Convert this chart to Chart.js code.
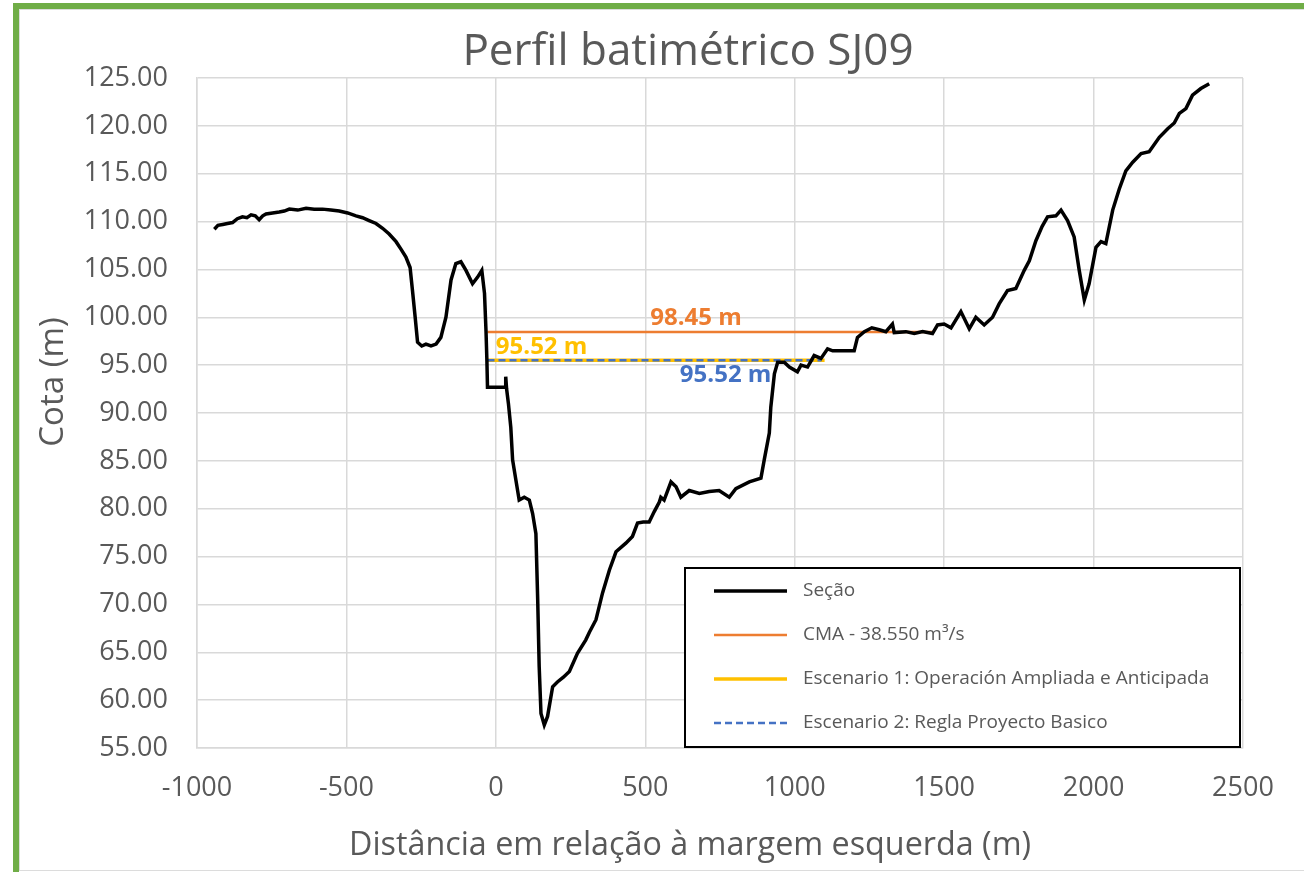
<!DOCTYPE html>
<html>
<head>
<meta charset="utf-8">
<script src="https://cdn.jsdelivr.net/npm/chart.js@4.4.1/dist/chart.umd.min.js"></script>
<style>
  html, body { margin: 0; padding: 0; background: #ffffff; }
  #wrap { position: relative; width: 1304px; height: 872px; overflow: hidden; }
  #c { position: absolute; left: 0; top: 0; }
  #frameGreen { position: absolute; left: 13px; top: 3px; width: 1400px; height: 1000px;
    border-left: 6px solid #70AD47; border-top: 6px solid #70AD47; pointer-events: none; }
  #frameGray { position: absolute; left: 19px; top: 9px; width: 1400px; height: 860px;
    border-left: 1px solid #dcdcdc; border-top: 1px solid #dcdcdc; border-bottom: 1px solid #dcdcdc; pointer-events: none; }
</style>
</head>
<body>
<div id="wrap">
  <canvas id="c" width="1304" height="872"></canvas>
  <div id="frameGray"></div>
  <div id="frameGreen"></div>
</div>
<script>
// ---- data ----
const titleText = "Perfil batimétrico SJ09";
const xAxisTitle = "Distância em relação à margem esquerda (m)";
const yAxisTitle = "Cota (m)";

const sectionLabel = "Seção";
const sectionX = [-942,-930,-914,-898,-881,-865,-848,-833,-819,-805,-792,-780,-769,-747,-725,-708,-691,-663,-635,-608,-580,-552,-524,-496,-468,-446,-424,-401,-379,-357,-334,-317,-301,-287,-279,-270,-262,-248,-234,-217,-200,-184,-167,-150,-134,-117,-100,-78,-61,-47,-38,-33,-30,-28,
  31,33,36,42,50,56,67,78,95,112,123,134,140,145,151,162,173,190,206,226,246,273,301,313,335,357,380,402,435,457,474,493,513,530,547,
  552,563,586,603,619,647,681,714,747,781,803,848,887,898,915,920,932,943,965,982,1009,1021,1043,1065,1088,1110,1127,1199,1210,1233,1258,1283,1305,1327,1333,1372,1400,1428,1461,1478,1500,1523,1556,1584,1606,1634,1662,1684,1712,1740,1768,1785,1807,1828,1846,1874,1891,1913,1935,1952,1969,1985,2008,2025,2041,2064,2086,2108,2131,2159,2186,2220,2248,2270,2287,2309,2331,2359,2387];
const sectionY = [109.2,109.6,109.7,109.8,109.9,110.3,110.5,110.4,110.7,110.6,110.2,110.6,110.8,110.9,111.0,111.1,111.3,111.2,111.4,111.3,111.3,111.2,111.1,110.9,110.6,110.4,110.1,109.8,109.3,108.7,107.9,107.1,106.3,105.2,102.8,100.0,97.4,97.0,97.2,97.0,97.2,97.9,100.0,103.9,105.6,105.8,104.9,103.5,104.2,104.9,102.5,98.6,95.5,92.7,
  92.7,93.8,92.5,91.0,88.5,85.1,83.0,80.9,81.2,80.9,79.5,77.4,70.5,63.5,58.6,57.4,58.3,61.4,61.9,62.4,63.0,64.9,66.3,67.1,68.4,71.2,73.6,75.5,76.4,77.1,78.5,78.6,78.6,79.7,80.7,
  81.2,80.9,82.8,82.3,81.2,81.9,81.6,81.8,81.9,81.2,82.1,82.8,83.2,85.1,87.9,90.6,94.1,95.3,95.3,94.8,94.3,95.0,94.8,96.0,95.7,96.7,96.5,96.5,97.9,98.5,98.9,98.7,98.5,99.3,98.4,98.5,98.3,98.5,98.3,99.2,99.3,98.9,100.6,98.8,100.0,99.2,100.0,101.4,102.8,103.0,104.9,105.9,108.0,109.5,110.5,110.6,111.2,110.1,108.4,104.9,101.8,103.5,107.3,107.9,107.7,111.2,113.4,115.3,116.2,117.1,117.3,118.8,119.7,120.3,121.3,121.8,123.2,123.9,124.4];

const cmaLabel = "CMA - 38.550 m³/s";
const cmaX = [-28, 1467];
const cmaLevel = 98.45;

const esc1Label = "Escenario 1: Operación Ampliada e Anticipada";
const esc1X = [-28, 1100];
const esc1Level = 95.52;

const esc2Label = "Escenario 2: Regla Proyecto Basico";
const esc2X = [-28, 1090];
const esc2Level = 95.52;

const xTicks = [-1000, -500, 0, 500, 1000, 1500, 2000, 2500];
const yTicks = [55, 60, 65, 70, 75, 80, 85, 90, 95, 100, 105, 110, 115, 120, 125];

// ---- build ----
const FONT = "'Open Sans', 'Liberation Sans', sans-serif";
const GRAY = '#595959';
const pts = (xs, ys) => xs.map((x, i) => ({ x: x, y: ys[i] }));
const flat = (xs, lvl) => xs.map(x => ({ x: x, y: lvl }));

const annotations = [
  { text: cmaLevel.toFixed(2) + ' m', x: 670, y: cmaLevel, color: '#ED7D31', align: 'center', dy: -14 },
  { text: esc1Level.toFixed(2) + ' m', x: 0, y: esc1Level, color: '#FFC000', align: 'left', dy: -13 },
  { text: esc2Level.toFixed(2) + ' m', x: 922, y: esc2Level, color: '#4472C4', align: 'right', dy: 15 }
];

const textPlugin = {
  id: 'texts',
  afterDraw(chart) {
    const ctx = chart.ctx;
    ctx.save();
    ctx.fillStyle = GRAY;
    ctx.textBaseline = 'alphabetic';
    ctx.textAlign = 'center';
    // chart title
    ctx.font = "44px " + FONT;
    ctx.fillText(titleText, 688, 65);
    // x axis title
    ctx.font = "32.3px " + FONT;
    ctx.fillText(xAxisTitle, 690, 855);
    // y axis title (rotated)
    ctx.translate(63, 382);
    ctx.rotate(-Math.PI / 2);
    ctx.font = "33px " + FONT;
    ctx.fillText(yAxisTitle, 0, 0);
    ctx.restore();
  }
};

const annotationPlugin = {
  id: 'valueLabels',
  afterDatasetsDraw(chart) {
    const ctx = chart.ctx, xs = chart.scales.x, ys = chart.scales.y;
    ctx.save();
    ctx.font = "bold 24px " + FONT;
    ctx.textBaseline = 'middle';
    annotations.forEach(a => {
      ctx.fillStyle = a.color;
      ctx.textAlign = a.align;
      ctx.fillText(a.text, xs.getPixelForValue(a.x), ys.getPixelForValue(a.y) + a.dy);
    });
    ctx.restore();
  }
};

const legendPlugin = {
  id: 'boxLegend',
  afterDraw(chart) {
    const ctx = chart.ctx;
    const box = { l: 685, t: 568, r: 1240, b: 747 };
    ctx.save();
    ctx.fillStyle = '#ffffff';
    ctx.fillRect(box.l, box.t, box.r - box.l, box.b - box.t);
    ctx.strokeStyle = '#000000';
    ctx.lineWidth = 2;
    ctx.strokeRect(box.l, box.t, box.r - box.l, box.b - box.t);
    const rows = [591, 635, 679, 723];
    chart.data.datasets.forEach((ds, i) => {
      const y = rows[i];
      ctx.beginPath();
      ctx.strokeStyle = ds.borderColor;
      ctx.lineWidth = ds.borderWidth;
      ctx.setLineDash(ds.borderDash || []);
      ctx.moveTo(714, y);
      ctx.lineTo(787, y);
      ctx.stroke();
      ctx.setLineDash([]);
      ctx.fillStyle = GRAY;
      ctx.font = "19px " + FONT;
      ctx.textAlign = 'left';
      ctx.textBaseline = 'middle';
      ctx.fillText(ds.label, 803, y);
    });
    ctx.restore();
  }
};

new Chart(document.getElementById('c'), {
  type: 'scatter',
  data: {
    datasets: [
      { label: sectionLabel, data: pts(sectionX, sectionY), showLine: true, borderColor: '#000000', borderWidth: 3.5, pointRadius: 0, order: 0 },
      { label: cmaLabel, data: flat(cmaX, cmaLevel), showLine: true, borderColor: '#ED7D31', borderWidth: 2.5, pointRadius: 0, order: 2 },
      { label: esc1Label, data: flat(esc1X, esc1Level), showLine: true, borderColor: '#FFC000', borderWidth: 3.5, pointRadius: 0, order: 3 },
      { label: esc2Label, data: flat(esc2X, esc2Level), showLine: true, borderColor: '#4472C4', borderWidth: 2.5, borderDash: [7, 4], pointRadius: 0, order: 1 }
    ]
  },
  options: {
    responsive: false,
    animation: false,
    layout: { padding: { left: 0, right: 61, top: 78, bottom: 0 } },
    plugins: {
      legend: { display: false },
      tooltip: { enabled: false },
      title: { display: false }
    },
    scales: {
      x: {
        type: 'linear', min: -1000, max: 2500,
        afterBuildTicks: s => { s.ticks = xTicks.map(v => ({ value: v })); },
        afterFit: s => { s.height = 124; },
        ticks: { color: GRAY, font: { family: FONT, size: 27 }, padding: 24, maxRotation: 0, callback: v => String(v) },
        grid: { color: '#d9d9d9', lineWidth: 1.5, drawTicks: false },
        border: { color: '#d9d9d9', width: 1.5 },
        title: { display: false }
      },
      y: {
        type: 'linear', min: 55, max: 125,
        afterBuildTicks: s => { s.ticks = yTicks.map(v => ({ value: v })); },
        afterFit: s => { s.width = 197; },
        ticks: { color: GRAY, font: { family: FONT, size: 27 }, padding: 29, callback: v => Number(v).toFixed(2) },
        grid: { color: '#d9d9d9', lineWidth: 1.5, drawTicks: false },
        border: { color: '#d9d9d9', width: 1.5 },
        title: { display: false }
      }
    }
  },
  plugins: [annotationPlugin, legendPlugin, textPlugin]
});
</script>
</body>
</html>
